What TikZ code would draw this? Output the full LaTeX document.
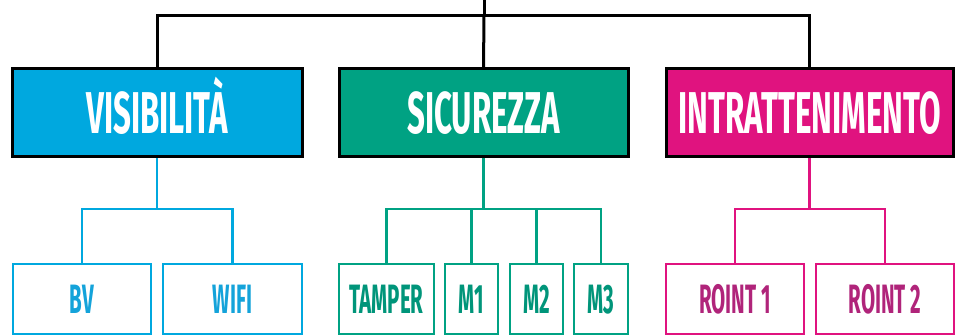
\documentclass[tikz,border=0pt]{standalone}
\usepackage{fontspec}
\newfontfamily\topfont{Fira Sans Bold}[FakeStretch=0.53]
\newfontfamily\botfont{Fira Sans Bold}[FakeStretch=0.5]
\definecolor{cblue}{HTML}{00A8DF}
\definecolor{cgreen}{HTML}{00A283}
\definecolor{cmag}{HTML}{E0137F}
\definecolor{tblue}{HTML}{14A3DA}
\definecolor{tgreen}{HTML}{00957A}
\definecolor{tmag}{HTML}{B0247A}
\tikzset{
  topbox/.style={draw=black, line width=3pt, minimum height=88pt, inner sep=0pt,
    text=white, font=\topfont\fontsize{59}{60}\selectfont, text height=41pt, text depth=0pt},
  botbox/.style={line width=2.4pt, fill=white, minimum height=70pt, inner sep=0pt,
    font=\botfont\fontsize{41}{42}\selectfont, text height=28pt, text depth=0pt},
  blk/.style={draw=black, line width=3pt},
}
\begin{document}
\begin{tikzpicture}[x=1pt, y=-1pt]
\useasboundingbox (0,0) rectangle (955,336);
% top-level boxes
\node[topbox, fill=cblue, minimum width=290pt] (vis) at (157,113) {VISIBILITÀ};
\node[topbox, fill=cgreen, minimum width=289pt] (sic) at (483.5,113) {SICUREZZA};
\node[topbox, fill=cmag, minimum width=287pt] (intr) at (809.5,113) {INTRATTENIMENTO};
% bottom boxes
\node[botbox, draw=cblue, text=tblue, minimum width=138pt] (bv) at (82,299) {BV};
\node[botbox, draw=cblue, text=tblue, minimum width=139pt] (wifi) at (232.5,299) {WIFI};
\node[botbox, draw=cgreen, text=tgreen, minimum width=95pt] (tamper) at (386.5,299) {TAMPER};
\node[botbox, draw=cgreen, text=tgreen, minimum width=53pt] (m1) at (471.5,299) {M1};
\node[botbox, draw=cgreen, text=tgreen, minimum width=53pt] (m2) at (536.5,299) {M2};
\node[botbox, draw=cgreen, text=tgreen, minimum width=54pt] (m3) at (601,299) {M3};
\node[botbox, draw=cmag, text=tmag, minimum width=138pt] (r1) at (735,299) {ROINT 1};
\node[botbox, draw=cmag, text=tmag, minimum width=138pt] (r2) at (885,299) {ROINT 2};
% top connectors
\coordinate (top) at (484,0);
\coordinate (hub) at (484,16);
\coordinate (mid) at (0,209);
\draw[blk] (top) -- (hub);
\draw[blk] (vis.north) |- (hub) -| (intr.north);
\draw[blk] (hub) -- (sic.north);
% blue
\begin{scope}[draw=cblue, line width=2.2pt]
\draw (vis.south) -- (vis.south |- mid);
\draw (bv.north) |- (wifi.north |- mid) -- (wifi.north);
\end{scope}
% green
\begin{scope}[draw=cgreen, line width=2.2pt]
\draw (sic.south) -- (sic.south |- mid);
\draw (tamper.north) |- (m3.north |- mid) -- (m3.north);
\draw (m1.north) -- (m1.north |- mid);
\draw (m2.north) -- (m2.north |- mid);
\end{scope}
% magenta
\begin{scope}[draw=cmag, line width=2.2pt]
\draw (intr.south) -- (intr.south |- mid);
\draw (r1.north) |- (r2.north |- mid) -- (r2.north);
\end{scope}
\end{tikzpicture}
\end{document}
